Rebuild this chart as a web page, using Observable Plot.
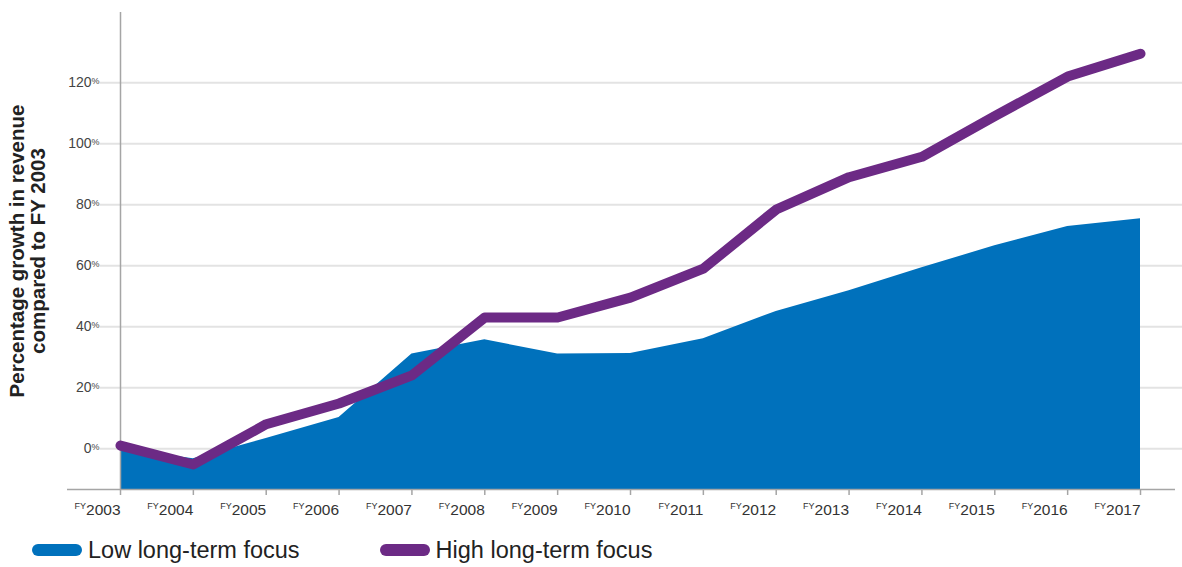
<!DOCTYPE html>
<html>
<head>
<meta charset="utf-8">
<script src="https://cdn.jsdelivr.net/npm/d3@7"></script>
<script src="https://cdn.jsdelivr.net/npm/@observablehq/plot@0.6"></script>
<style>
  body { margin: 0; background: #fff; font-family: "Liberation Sans", Arial, sans-serif; }
  #legend { display: flex; align-items: center; height: 50px; padding-left: 32px; color: #222; font-size: 23.5px; }
  .item { display: flex; align-items: center; margin-right: 80px; }
  .pill { width: 50px; height: 12px; border-radius: 6px; margin-right: 6px; }
</style>
</head>
<body>
<div id="chart"></div>
<div id="legend"></div>
<script>
const years = [2003,2004,2005,2006,2007,2008,2009,2010,2011,2012,2013,2014,2015,2016,2017];
const lowFocus  = [0, -3.3, 3.3, 10.2, 31, 35.7, 31, 31.2, 36, 45, 51.8, 59.3, 66.5, 72.8, 75.4];
const highFocus = [1, -5.2, 8, 14.8, 24, 43, 43, 49.5, 59, 78.4, 89, 95.7, 109, 122, 129.5];
const yTicks = [0, 20, 40, 60, 80, 100, 120];
const seriesNames = ["Low long-term focus", "High long-term focus"];
const colors = ["#0071BC", "#6C2A85"];
const yTitle = "Percentage growth in revenue\ncompared to FY 2003";

const data = years.map((y, i) => ({year: y, low: lowFocus[i], high: highFocus[i]}));
const yMin = -13.4, yMax = 143;

const chart = Plot.plot({
  width: 1182,
  height: 525,
  marginLeft: 120,
  marginRight: 42,
  marginTop: 12,
  marginBottom: 36,
  style: {fontFamily: "'Liberation Sans', Arial, sans-serif", background: "#fff", overflow: "visible"},
  x: {type: "linear", domain: [2003, 2017]},
  y: {domain: [yMin, yMax]},
  marks: [
    Plot.ruleY(yTicks, {stroke: "#e3e3e3", strokeWidth: 2, insetLeft: -20, insetRight: -42}),
    Plot.areaY(data, {x: "year", y1: yMin, y2: "low", fill: colors[0]}),
    Plot.ruleX([2003], {stroke: "#a5a5a5", strokeWidth: 1.5}),
    Plot.ruleY([yMin], {stroke: "#a5a5a5", strokeWidth: 1.5, insetLeft: -53, insetRight: -35}),
    Plot.line(data, {x: "year", y: "high", stroke: colors[1], strokeWidth: 10, strokeLinecap: "round", strokeLinejoin: "round"}),
    Plot.axisY({ticks: yTicks, tickSize: 0, tickPadding: 21, fontSize: 14, fill: "#444", tickFormat: d => String(d), label: null}),
    Plot.axisX({ticks: years, tickSize: 6, tickPadding: 6, stroke: "#a5a5a5", strokeWidth: 1.5, fontSize: 15.5, fill: "#333", textAnchor: "end", tickFormat: d => String(d), label: null}),
    Plot.text([yTitle], {frameAnchor: "left", rotate: -90, dx: -93, fontSize: 20.5, fontWeight: "bold", fill: "#222", lineHeight: 1.05, textAnchor: "middle"})
  ]
});
document.getElementById("chart").appendChild(chart);

// superscript "%" on y labels, "FY" on x labels
d3.select(chart).selectAll("g[aria-label='y-axis tick label'] text").each(function() {
  const t = d3.select(this); const v = t.text(); t.text("");
  t.append("tspan").text(v);
  t.append("tspan").text("%").attr("font-size", 9).attr("dy", "-0.4em");
});
d3.select(chart).selectAll("g[aria-label='x-axis tick label'] text").each(function() {
  const t = d3.select(this); const v = t.text(); t.text("");
  t.append("tspan").text("FY").attr("font-size", 9).attr("dy", "-0.4em");
  t.append("tspan").text(v).attr("dy", "0.4em");
});

const legend = document.getElementById("legend");
seriesNames.forEach((name, i) => {
  const it = document.createElement("div"); it.className = "item";
  const p = document.createElement("div"); p.className = "pill"; p.style.background = colors[i];
  const s = document.createElement("span"); s.textContent = name;
  it.appendChild(p); it.appendChild(s); legend.appendChild(it);
});
</script>
</body>
</html>
